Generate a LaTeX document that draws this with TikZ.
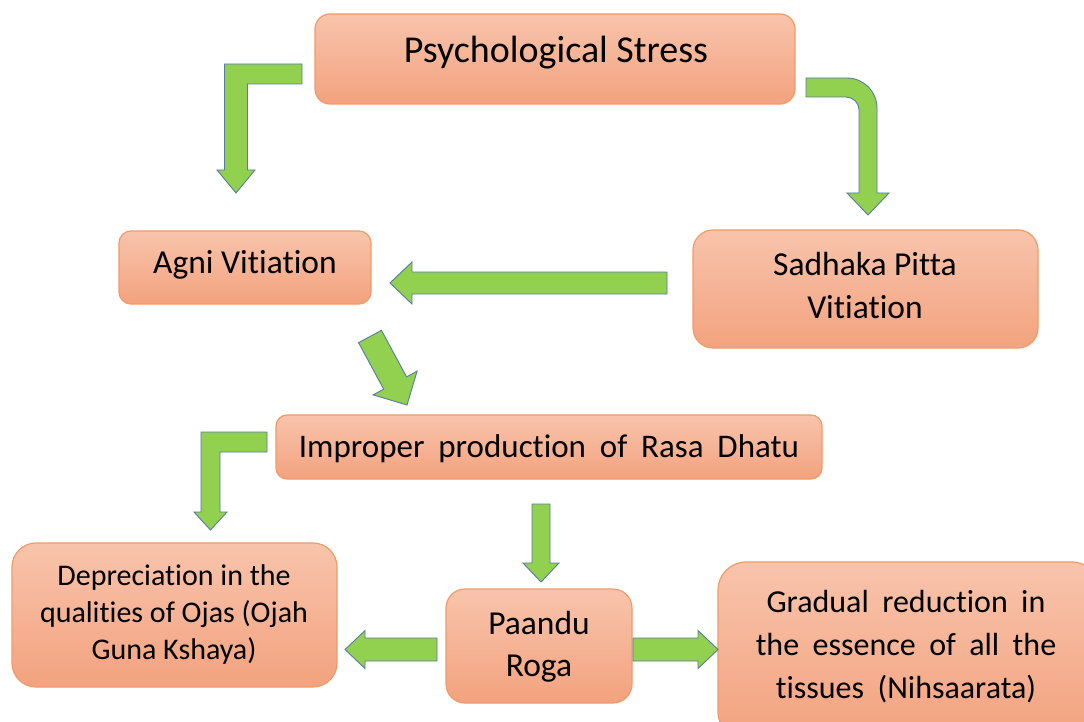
\documentclass[tikz,border=0pt]{standalone}
\usepackage{fontspec}
\setmainfont{Carlito}[Ligatures={NoCommon}]
\usetikzlibrary{calc}
\definecolor{boxtop}{RGB}{248,196,172}
\definecolor{boxbot}{RGB}{243,162,126}
\definecolor{boxline}{RGB}{240,155,105}
\definecolor{arrfill}{RGB}{146,208,80}
\definecolor{arrline}{RGB}{85,125,160}
\newcommand\widesp{\spaceskip=0.42em\relax}
\tikzset{
  box/.style={draw=boxline, line width=1.2pt, top color=boxtop, bottom color=boxbot, inner sep=0pt},
  barrow/.style={draw=arrline, line width=0.9pt, fill=arrfill, line join=miter},
  txt/.style={anchor=base, align=center, inner sep=0pt, text=black},
}
% straight block arrow: from, to, half shaft, half head, head length
\newcommand\blockarrow[5]{%
  \coordinate (bah) at ($(#2)!#5pt!(#1)$);
  \draw[barrow] ($(#1)!#3pt!90:(#2)$) -- ($(bah)!#3pt!90:(#2)$) -- ($(bah)!#4pt!90:(#2)$)
     -- (#2) -- ($(bah)!#4pt!-90:(#2)$) -- ($(bah)!#3pt!-90:(#2)$) -- ($(#1)!#3pt!-90:(#2)$) -- cycle;
}
\begin{document}
\begin{tikzpicture}[x=1pt,y=-1pt]
\useasboundingbox (0,0) rectangle (1084,722);
\fill[white] (0,0) rectangle (1084,722);
\clip (0,0) rectangle (1084,722);

% boxes
\node[box, minimum width=480pt, minimum height=90pt, rounded corners=15pt] (stress) at (555,59) {};
\node[box, minimum width=252pt, minimum height=73pt, rounded corners=12pt] (agni) at (245,267.5) {};
\node[box, minimum width=345pt, minimum height=118pt, rounded corners=20pt] (sadhaka) at (865.5,289) {};
\node[box, minimum width=546pt, minimum height=64pt, rounded corners=11pt] (improper) at (549,447) {};
\node[box, minimum width=325pt, minimum height=144pt, rounded corners=24pt] (deprec) at (174.5,615) {};
\node[box, minimum width=186pt, minimum height=114pt, rounded corners=19pt] (paandu) at (539,646) {};
\node[box, minimum width=382pt, minimum height=178pt, rounded corners=28pt] (gradual) at (909,651) {};

% texts (base anchor = baseline of the last line)
\node[txt, font={\fontsize{38}{46}\selectfont}] (stress-t) at (556,63) {Psychological Stress};
\node[txt, font={\fontsize{33.5}{43}\selectfont}] (agni-t) at (245,273) {Agni Vitiation};
\node[txt, font={\fontsize{33.5}{43}\selectfont}] (sadhaka-t) at (865,318) {Sadhaka Pitta\\Vitiation};
\node[txt, font={\fontsize{33}{43}\selectfont\widesp}] (improper-t) at (549,457) {Improper production of Rasa Dhatu};
\node[txt, font={\fontsize{30}{37}\selectfont}] (deprec-t) at (174,659) {Depreciation in the\\qualities of Ojas (Ojah\\Guna Kshaya)};
\node[txt, font={\fontsize{33.5}{42}\selectfont}] (paandu-t) at (539,676) {Paandu\\Roga};
\node[txt, font={\fontsize{32}{43}\selectfont\widesp}] (gradual-t) at (906,698) {Gradual reduction in\\the essence of all the\\tissues (Nihsaarata)};

% arrow end points
\coordinate (a1s) at (302,74);    \coordinate (a1e) at (236,193);
\coordinate (a2s) at (806,87.5);  \coordinate (a2e) at (868,215);
\coordinate (a3s) at (667,283);   \coordinate (a3e) at (390,283);
\coordinate (a4s) at (370,336.5); \coordinate (a4e) at (407,405);
\coordinate (a5s) at (267,442);   \coordinate (a5e) at (210.5,530);
\coordinate (a6s) at (541,504);   \coordinate (a6e) at (541,582);
\coordinate (a7s) at (437,649.5); \coordinate (a7e) at (345,649.5);
\coordinate (a8s) at (633,649.5); \coordinate (a8e) at (718,649.5);

% bent arrow: stress -> agni
\draw[barrow] ($(a1s)+(0,-10)$) -- ($(a1e|-a1s)+(-11.5,-10)$) -- ($(a1e)+(-11.5,-23)$)
  -- ($(a1e)+(-19,-23)$) -- (a1e) -- ($(a1e)+(19,-23)$) -- ($(a1e)+(11.5,-23)$)
  -- ($(a1e|-a1s)+(11.5,10)$) -- ($(a1s)+(0,10)$) -- cycle;

% curved arrow: stress -> sadhaka
\draw[barrow] ($(a2s)+(0,-9.5)$) -- ($(a2e|-a2s)+(-21,-9.5)$)
  .. controls ($(a2e|-a2s)+(-4.4,-9.5)$) and ($(a2e|-a2s)+(9,3.9)$) .. ($(a2e|-a2s)+(9,20.5)$)
  -- ($(a2e)+(9,-22)$) -- ($(a2e)+(21,-22)$) -- (a2e) -- ($(a2e)+(-21,-22)$) -- ($(a2e)+(-9,-22)$)
  -- ($(a2e|-a2s)+(-9,22.5)$)
  .. controls ($(a2e|-a2s)+(-9,15.3)$) and ($(a2e|-a2s)+(-14.8,9.5)$) .. ($(a2e|-a2s)+(-22,9.5)$)
  -- ($(a2s)+(0,9.5)$) -- cycle;

% bent arrow: improper -> deprec
\draw[barrow] ($(a5s)+(0,-10)$) -- ($(a5e|-a5s)+(-9.5,-10)$) -- ($(a5e)+(-9.5,-18)$)
  -- ($(a5e)+(-16.5,-18)$) -- (a5e) -- ($(a5e)+(16.5,-18)$) -- ($(a5e)+(9.5,-18)$)
  -- ($(a5e|-a5s)+(9.5,10)$) -- ($(a5s)+(0,10)$) -- cycle;

% straight arrows
\blockarrow{a3s}{a3e}{11}{21}{22}
\blockarrow{a4s}{a4e}{13}{25}{25}
\blockarrow{a6s}{a6e}{9}{18}{19}
\blockarrow{a7s}{a7e}{11.5}{19}{20}
\blockarrow{a8s}{a8e}{11.5}{19}{20}
\end{tikzpicture}
\end{document}
